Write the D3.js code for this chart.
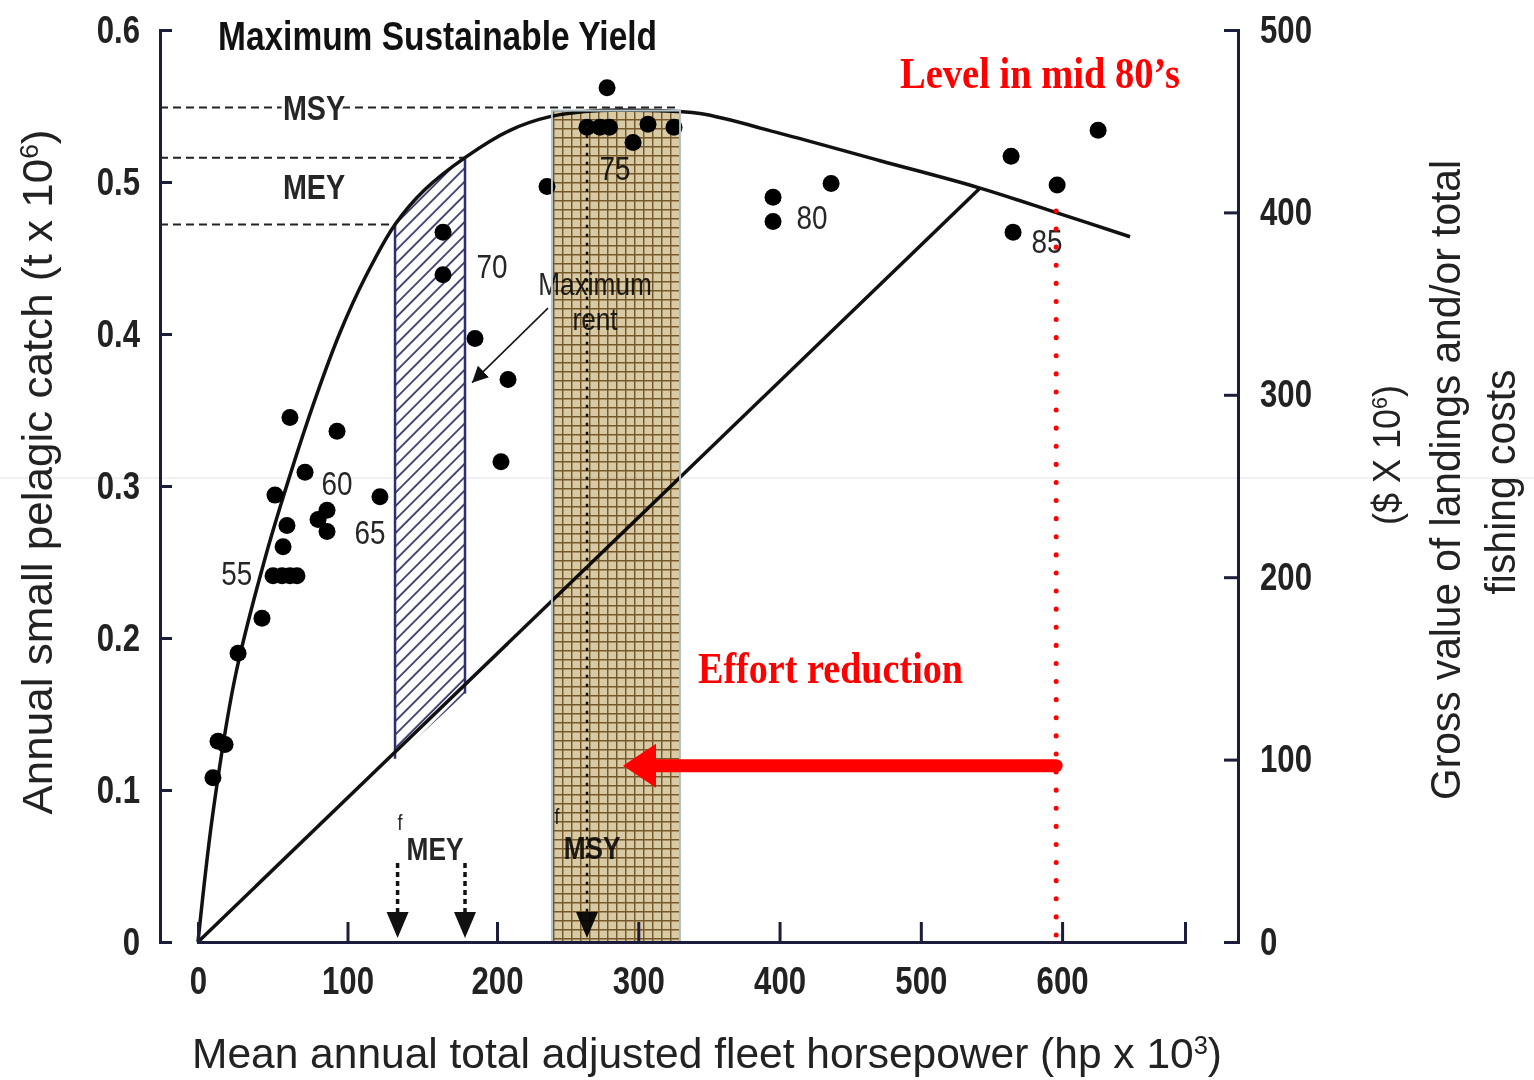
<!DOCTYPE html>
<html lang="en">
<head>
<meta charset="UTF-8">
<title>Maximum Sustainable Yield</title>
<script src="https://d3js.org/d3.v7.min.js"></script>
<style>
  body { margin: 0; background: #fff; }
  text { font-family: "Liberation Sans", Arial, sans-serif; }
  .serif { font-family: "Liberation Serif", "Times New Roman", serif; }
</style>
</head>
<body>
<svg id="chart" width="1534" height="1080"></svg>
<script>
// catch (t x 10^6) against fleet horsepower (hp x 10^3)
const yieldCurve = [[0,0],[10,0.085],[25,0.175],[45,0.253],[61.5,0.307],
  [78.3,0.357],[95,0.401],[111.7,0.437],[131.8,0.472],[151.8,0.495],[178.6,0.516],[209.2,0.534],
  [237.5,0.543],[272.9,0.547],[308.3,0.547],[343.7,0.545],[400.4,0.532],[471.2,0.514],
  [542,0.496],[598.6,0.479],[648.1,0.464]];
const costLine = [[0,0],[542,0.496]];
const catchPts = [[10,0.108],[13.4,0.132],[18.1,0.130],[26.8,0.190],[42.8,0.213],
  [50.2,0.241],[56.2,0.241],[61.5,0.241],[66.2,0.241],[56.9,0.260],[59.5,0.274],[51.5,0.294],
  [61.5,0.345],[71.6,0.309],[93,0.336],[80.3,0.278],[86.3,0.284],[86.3,0.270],[121.7,0.293],
  [163.9,0.467],[163.9,0.439],[185.3,0.397],[207.8,0.370],[202.8,0.316],[235.4,0.497],
  [277.9,0.562],[263.7,0.536],[272.9,0.536],[279.6,0.536],[296.3,0.526],[306.9,0.538],[325.3,0.536],
  [395.4,0.490],[395.4,0.474],[436.5,0.499],
  [563.9,0.517],[596.5,0.498],[625.5,0.534],[565.3,0.467]];
const yearLabels = [["55",26,0.243],["60",93,0.302],["65",115,0.270],["70",196.7,0.445],
  ["75",283.5,0.509],["80",423,0.477],["85",589.4,0.461]];

const xTicks = [0, 100, 200, 300, 400, 500, 600];
const yTicks = [0, 0.1, 0.2, 0.3, 0.4, 0.5, 0.6];
const yRightTicks = [0, 100, 200, 300, 400, 500];

const meyBand = [131.8, 178.6];
const msyBand = [238.9, 329.6];
const msyLevel = 0.549, meyLevel = 0.516, lowLevel = 0.472, msyTop = 0.547;
const meyArrows = [133.5, 178.6];
const fMsy = 263.7;
const effort80s = 595.8, effortTarget = 289.2, effortY = 0.116;

const svg = d3.select('#chart');
const navy = '#1c1c3c';

// the source figure is stretched unevenly along x, so the scale has a kink at 200
const x = d3.scaleLinear().domain([0, 200, 687]).range([198, 497, 1185]);
const y = d3.scaleLinear().domain([0, 0.6]).range([942, 30]);
const yR = d3.scaleLinear().domain([0, 500]).range([942, 30]);
const cost = v => costLine[1][1] / costLine[1][0] * v;

// squeeze text horizontally to get the narrow look of the original lettering
function narrow(sel, k = 0.82) {
  sel.each(function () {
    const w = this.getComputedTextLength();
    d3.select(this).attr('textLength', w * k).attr('lengthAdjust', 'spacingAndGlyphs');
  });
}

const defs = svg.append('defs');
const hatch = defs.append('pattern').attr('id', 'hatch').attr('width', 9.5).attr('height', 9.5)
  .attr('patternUnits', 'userSpaceOnUse').attr('patternTransform', 'rotate(45)');
hatch.append('rect').attr('width', 9.5).attr('height', 9.5).attr('fill', '#fff');
hatch.append('line').attr('x1', 1).attr('y1', 0).attr('x2', 1).attr('y2', 9.5)
  .attr('stroke', '#3a3c6c').attr('stroke-width', 1.8);

const grid = defs.append('pattern').attr('id', 'grid').attr('width', 9).attr('height', 9)
  .attr('patternUnits', 'userSpaceOnUse').attr('x', 4).attr('y', 2);
grid.append('rect').attr('width', 9).attr('height', 9).attr('fill', '#d8caa4');
grid.append('path').attr('d', 'M0 0.7H9M0.7 0V9').attr('stroke', '#76592a').attr('stroke-width', 1.5);

const between = d3.area().curve(d3.curveCatmullRom)
  .x(d => x(d[0])).y0(d => y(cost(d[0]))).y1(d => y(d[1]));
defs.append('clipPath').attr('id', 'between').append('path')
  .attr('d', between(yieldCurve.filter(d => d[0] <= costLine[1][0])));

defs.append('marker').attr('id', 'tip').attr('viewBox', '0 0 10 10')
  .attr('refX', 10).attr('refY', 5).attr('markerWidth', 16).attr('markerHeight', 16)
  .attr('markerUnits', 'userSpaceOnUse').attr('orient', 'auto')
  .append('path').attr('d', 'M0,0L10,5L0,10Z').attr('fill', '#111');

// faint scan line in the source
svg.append('line').attr('x1', 0).attr('x2', 1534).attr('y1', 478).attr('y2', 478)
  .attr('stroke', '#ececf0').attr('stroke-width', 1.5);

// MEY band, hatched between revenue curve and cost line
svg.append('rect').attr('x', x(meyBand[0])).attr('width', x(meyBand[1]) - x(meyBand[0]))
  .attr('y', y(0.6)).attr('height', y(0) - y(0.6))
  .attr('fill', 'url(#hatch)').attr('clip-path', 'url(#between)');
meyBand.forEach(v => {
  const top = yieldCurve.find(d => d[0] === v)[1];
  svg.append('line').attr('x1', x(v)).attr('x2', x(v)).attr('y1', y(top)).attr('y2', y(cost(v)))
    .attr('stroke', '#2d2f70').attr('stroke-width', 2.5);
});

// reference levels
const dash = (xe, lev) => svg.append('line').attr('x1', 160).attr('x2', x(xe))
  .attr('y1', y(lev)).attr('y2', y(lev))
  .attr('stroke', '#222').attr('stroke-width', 2).attr('stroke-dasharray', '8 5');
dash(msyBand[1], msyLevel);
dash(meyBand[1], meyLevel);
dash(meyBand[0], lowLevel);

const line = d3.line().curve(d3.curveCatmullRom).x(d => x(d[0])).y(d => y(d[1]));
svg.append('path').attr('d', line(yieldCurve)).attr('fill', 'none')
  .attr('stroke', '#111').attr('stroke-width', 3.5);
svg.append('path').attr('d', d3.line().x(d => x(d[0])).y(d => y(d[1]))(costLine))
  .attr('fill', 'none').attr('stroke', '#111').attr('stroke-width', 3.5);

svg.append('g').selectAll('circle').data(catchPts).join('circle')
  .attr('cx', d => x(d[0])).attr('cy', d => y(d[1])).attr('r', 8.5).attr('fill', '#000');

// small annotations
const note = (t, xv, yv, size, weight) => {
  const s = svg.append('text')
    .attr('x', x(xv)).attr('y', y(yv)).attr('dy', '0.35em')
    .attr('text-anchor', 'middle').attr('font-size', size)
    .attr('font-weight', weight || 'normal').attr('fill', '#262626').text(t);
  narrow(s);
  return s;
};

yearLabels.forEach(d => note(d[0], d[1], d[2], 34));
note('MSY', 77.6, msyLevel, 35, 'bold').attr('stroke', '#fff').attr('stroke-width', 8)
  .attr('paint-order', 'stroke');
note('MEY', 77.6, 0.497, 35, 'bold');
note('Maximum', 269.4, 0.433, 32);
note('rent', 269.4, 0.410, 32);
svg.append('line').attr('x1', x(236.1)).attr('y1', y(0.417)).attr('x2', x(183.3)).attr('y2', y(0.368))
  .attr('stroke', '#111').attr('stroke-width', 1.5).attr('marker-end', 'url(#tip)');

note('f', 135.1, 0.079, 22);
note('MEY', 158.5, 0.061, 32, 'bold');
note('f', 242.5, 0.083, 22);
note('MSY', 267.3, 0.062, 32, 'bold');

const downArrow = (xv, y1, dashes, w) => {
  svg.append('line').attr('x1', x(xv)).attr('x2', x(xv)).attr('y1', y(y1)).attr('y2', y(0) - 22)
    .attr('stroke', '#111').attr('stroke-width', w).attr('stroke-dasharray', dashes);
  const px = x(xv), py = y(0) - 4;
  svg.append('path').attr('d', `M${px - 11},${py - 26}L${px + 11},${py - 26}L${px},${py}Z`).attr('fill', '#111');
};
meyArrows.forEach(v => downArrow(v, 0.052, '5 4', 3.5));
downArrow(fMsy, 0.537, '3 6', 2.5);

// MSY band: tan grid laid over the marks
svg.append('rect').attr('x', x(msyBand[0])).attr('width', x(msyBand[1]) - x(msyBand[0]))
  .attr('y', y(msyTop)).attr('height', y(0) - y(msyTop))
  .attr('fill', 'url(#grid)').style('mix-blend-mode', 'multiply');
svg.append('rect').attr('x', x(msyBand[0])).attr('width', x(msyBand[1]) - x(msyBand[0]))
  .attr('y', y(msyTop)).attr('height', y(0) - y(msyTop))
  .attr('fill', 'none').attr('stroke', '#b3c3cc').attr('stroke-width', 2);

// effort reduction from the mid 80s level
svg.append('line').attr('x1', x(effort80s)).attr('x2', x(effort80s))
  .attr('y1', y(0.481)).attr('y2', y(0) - 4)
  .attr('stroke', '#ff0000').attr('stroke-width', 5).attr('stroke-linecap', 'round')
  .attr('stroke-dasharray', '0.1 18');
svg.append('line').attr('x1', x(effort80s)).attr('x2', x(effortTarget) + 30)
  .attr('y1', y(effortY)).attr('y2', y(effortY))
  .attr('stroke', '#ff0000').attr('stroke-width', 13).attr('stroke-linecap', 'round');
{
  const tx = x(effortTarget), ty = y(effortY);
  svg.append('path').attr('d', `M${tx},${ty}L${tx + 33},${ty - 22}L${tx + 33},${ty + 22}Z`).attr('fill', '#ff0000');
}

svg.append('text').attr('class', 'serif').attr('x', 900).attr('y', 88)
  .attr('font-size', 44).attr('font-weight', 'bold').attr('fill', '#ff0000')
  .attr('textLength', 280).attr('lengthAdjust', 'spacingAndGlyphs').text('Level in mid 80\u2019s');
svg.append('text').attr('class', 'serif').attr('x', 698).attr('y', 683)
  .attr('font-size', 44).attr('font-weight', 'bold').attr('fill', '#ff0000')
  .attr('textLength', 265).attr('lengthAdjust', 'spacingAndGlyphs').text('Effort reduction');

svg.append('text').attr('x', 218).attr('y', 50).attr('font-size', 40).attr('font-weight', 'bold')
  .attr('fill', '#111').attr('textLength', 439).attr('lengthAdjust', 'spacingAndGlyphs')
  .text('Maximum Sustainable Yield');

// axes
const styleAxis = g => {
  g.attr('font-size', 38).attr('font-weight', 'bold');
  g.select('.domain').attr('stroke', navy).attr('stroke-width', 3);
  g.selectAll('.tick line').attr('stroke', navy).attr('stroke-width', 3);
  g.selectAll('.tick text').attr('fill', '#222').call(narrow);
};
svg.append('g').attr('transform', 'translate(160,0)')
  .call(d3.axisLeft(y).tickValues(yTicks).tickFormat(d => d === 0 ? '0' : d3.format('.1f')(d))
    .tickSizeInner(-12).tickSizeOuter(-12).tickPadding(20))
  .call(styleAxis);
svg.append('g').attr('transform', 'translate(1238,0)')
  .call(d3.axisRight(yR).tickValues(yRightTicks).tickSizeInner(-14).tickSizeOuter(-14).tickPadding(22))
  .call(styleAxis);
svg.append('g').attr('transform', `translate(0,${y(0)})`)
  .call(d3.axisBottom(x).tickValues(xTicks).tickSizeInner(-20).tickSizeOuter(-20).tickPadding(25))
  .call(styleAxis);

// axis titles
const title = (px, py, rot, len, size, parts) => {
  const t = svg.append('text').attr('transform', `translate(${px},${py}) rotate(${rot})`)
    .attr('text-anchor', 'middle').attr('font-size', size).attr('fill', '#222')
    .attr('textLength', len).attr('lengthAdjust', 'spacingAndGlyphs');
  parts.forEach(p => {
    const s = t.append('tspan').text(p[0]);
    if (p[1]) s.attr('font-size', size * 0.6).attr('baseline-shift', 'super');
  });
};
title(52, 472, -90, 685, 42, [['Annual small pelagic catch (t x 10'], ['6', 1], [')']]);
title(707, 1068, 0, 1030, 42, [['Mean annual total adjusted fleet horsepower (hp x 10'], ['3', 1], [')']]);
title(1400, 455, -90, 140, 38, [['($ X 10'], ['6', 1], [')']]);
title(1460, 480, -90, 640, 42, [['Gross value of landings and/or total']]);
title(1515, 482, -90, 225, 42, [['fishing costs']]);
</script>
</body>
</html>
